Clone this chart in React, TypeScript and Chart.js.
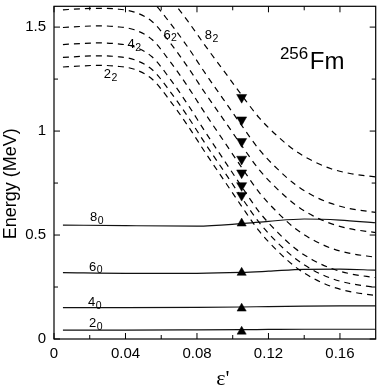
import React, { useEffect, useRef } from 'react';
import { Chart, registerables } from 'chart.js';

Chart.register(...registerables);

// ---------- data ----------
const X_DASHED = [0.005, 0.015, 0.025, 0.035, 0.045, 0.055, 0.065, 0.075, 0.085, 0.095, 0.105, 0.115, 0.125, 0.135, 0.145, 0.155, 0.165, 0.18];
const E_2_2 = [1.308, 1.313, 1.316, 1.312, 1.297, 1.249, 1.145, 1.024, 0.892, 0.765, 0.638, 0.517, 0.424, 0.347, 0.292, 0.253, 0.229, 0.209];
const E_3_2 = [1.354, 1.359, 1.362, 1.358, 1.343, 1.295, 1.190, 1.068, 0.935, 0.808, 0.680, 0.558, 0.464, 0.387, 0.331, 0.292, 0.268, 0.248];
const E_4_2 = [1.416, 1.421, 1.424, 1.420, 1.405, 1.356, 1.250, 1.126, 0.991, 0.862, 0.733, 0.609, 0.514, 0.435, 0.379, 0.340, 0.315, 0.295];
const E_5_2 = [1.498, 1.503, 1.506, 1.502, 1.487, 1.439, 1.334, 1.212, 1.079, 0.952, 0.825, 0.703, 0.609, 0.531, 0.476, 0.437, 0.413, 0.393];
const E_6_2 = [1.583, 1.588, 1.590, 1.587, 1.572, 1.526, 1.424, 1.306, 1.177, 1.054, 0.930, 0.812, 0.721, 0.646, 0.592, 0.555, 0.531, 0.512];
const E_7_2 = [1.678, 1.683, 1.685, 1.682, 1.667, 1.621, 1.519, 1.402, 1.273, 1.150, 1.027, 0.909, 0.818, 0.743, 0.689, 0.652, 0.628, 0.609];
const E_8_2 = [1.788, 1.793, 1.795, 1.792, 1.778, 1.734, 1.638, 1.527, 1.406, 1.290, 1.173, 1.062, 0.976, 0.905, 0.855, 0.819, 0.797, 0.779];

const X_SOLID = [0.005, 0.04, 0.08, 0.105, 0.12, 0.14, 0.16, 0.18];
const E_2_0 = [0.043, 0.043, 0.044, 0.045, 0.046, 0.047, 0.047, 0.047];
const E_4_0 = [0.151, 0.151, 0.152, 0.154, 0.156, 0.158, 0.159, 0.159];
const E_6_0 = [0.319, 0.316, 0.316, 0.320, 0.326, 0.335, 0.336, 0.331];
const E_8_0 = [0.548, 0.545, 0.543, 0.555, 0.566, 0.577, 0.572, 0.559];

const X_EXP = 0.105;
const EXP_GROUND = [0.036, 0.147, 0.319, 0.556];
const EXP_GAMMA = [0.691, 0.738, 0.799, 0.865, 0.950, 1.054, 1.162];

const X_MAJOR = [0, 0.04, 0.08, 0.12, 0.16];
const X_TICK_LABELS = ['0', '0.04', '0.08', '0.12', '0.16'];
const X_MINOR = [0.02, 0.06, 0.1, 0.14];
const Y_MAJOR = [0, 0.5, 1, 1.5];
const Y_TICK_LABELS = ['0', '0.5', '1', '1.5'];
const Y_MINOR = [0.25, 0.75, 1.25];

const LABEL_MAIN = ['2', '4', '6', '8', '8', '6', '4', '2'];
const LABEL_SUB = ['2', '2', '2', '2', '0', '0', '0', '0'];
const LABEL_X = [0.0278, 0.0411, 0.0612, 0.0844, 0.0201, 0.0196, 0.019, 0.0196];
const LABEL_E = [1.2535, 1.398, 1.445, 1.442, 0.5655, 0.327, 0.158, 0.0566];

const NUCLEUS_MASS = '256';
const NUCLEUS_SYMBOL = 'Fm';
const NUCLEUS_X = 0.1264;
const NUCLEUS_E = 1.3007;

const Y_TITLE = 'Energy (MeV)';
const X_TITLE = "\u03b5'";

// ---------- style ----------
const SANS = '"Liberation Sans", Arial, Helvetica, sans-serif';
const SERIF = '"Liberation Serif", "Times New Roman", serif';

const pts = (xs: number[], ys: number[]) => xs.map((x, i) => ({ x, y: ys[i] }));

const dashed = (ys: number[]) => ({
  data: pts(X_DASHED, ys),
  borderColor: '#000',
  borderWidth: 1.2,
  borderDash: [6, 5],
  pointRadius: 0,
  cubicInterpolationMode: 'monotone' as const,
  fill: false,
  order: 2,
});

const solid = (ys: number[]) => ({
  data: pts(X_SOLID, ys),
  borderColor: '#111',
  borderWidth: 1.2,
  pointRadius: 0,
  cubicInterpolationMode: 'monotone' as const,
  fill: false,
  order: 2,
});

const noPad = (s: any) => {
  s.paddingTop = 0;
  s.paddingBottom = 0;
  s.paddingLeft = 0;
  s.paddingRight = 0;
};

const decor = {
  id: 'decor',
  afterDraw(chart: any) {
    const { ctx, chartArea: a } = chart;
    const xs = chart.scales.x;
    const ys = chart.scales.y;
    ctx.save();
    ctx.strokeStyle = '#000';
    ctx.lineWidth = 1.2;
    ctx.strokeRect(a.left, a.top, a.right - a.left, a.bottom - a.top);

    ctx.lineWidth = 1;
    const tick = (x1: number, y1: number, x2: number, y2: number) => {
      ctx.beginPath();
      ctx.moveTo(x1, y1);
      ctx.lineTo(x2, y2);
      ctx.stroke();
    };
    X_MAJOR.forEach((v) => {
      const p = xs.getPixelForValue(v);
      tick(p, a.bottom, p, a.bottom - 6);
      tick(p, a.top, p, a.top + 6);
    });
    X_MINOR.forEach((v) => {
      const p = xs.getPixelForValue(v);
      tick(p, a.bottom, p, a.bottom - 4);
      tick(p, a.top, p, a.top + 4);
    });
    Y_MAJOR.forEach((v) => {
      const p = ys.getPixelForValue(v);
      tick(a.left, p, a.left + 6, p);
      tick(a.right, p, a.right - 6, p);
    });
    Y_MINOR.forEach((v) => {
      const p = ys.getPixelForValue(v);
      tick(a.left, p, a.left + 4, p);
      tick(a.right, p, a.right - 4, p);
    });

    ctx.fillStyle = '#000';
    ctx.textAlign = 'left';
    ctx.textBaseline = 'alphabetic';
    LABEL_MAIN.forEach((m, i) => {
      const px = xs.getPixelForValue(LABEL_X[i]);
      const py = ys.getPixelForValue(LABEL_E[i]);
      ctx.font = `13px ${SANS}`;
      ctx.fillText(m, px, py);
      const w = ctx.measureText(m).width;
      ctx.font = `10.5px ${SANS}`;
      ctx.fillText(LABEL_SUB[i], px + w + 0.5, py + 2.4);
    });

    const nx = xs.getPixelForValue(NUCLEUS_X);
    const ny = ys.getPixelForValue(NUCLEUS_E);
    ctx.font = `17px ${SANS}`;
    ctx.fillText(NUCLEUS_MASS, nx, ny - 10);
    const mw = ctx.measureText(NUCLEUS_MASS).width;
    ctx.font = `24px ${SANS}`;
    ctx.fillText(NUCLEUS_SYMBOL, nx + mw + 1.5, ny);

    // axis titles
    ctx.save();
    ctx.translate(16, (a.top + a.bottom) / 2 + 11);
    ctx.rotate(-Math.PI / 2);
    ctx.textAlign = 'center';
    ctx.font = `18px ${SANS}`;
    ctx.fillText(Y_TITLE, 0, 0);
    ctx.restore();

    ctx.textAlign = 'center';
    ctx.font = `22px ${SERIF}`;
    ctx.fillText(X_TITLE, (a.left + a.right) / 2 + 8, 385);
    ctx.restore();
  },
};

export default function App() {
  const ref = useRef<HTMLCanvasElement>(null);
  useEffect(() => {
    const canvas = ref.current;
    if (!canvas) return;
    const chart = new Chart(canvas, {
      type: 'line',
      data: {
        datasets: [
          {
            data: EXP_GROUND.map((y) => ({ x: X_EXP, y })),
            showLine: false,
            pointStyle: 'triangle',
            pointRadius: 5.3,
            pointBorderWidth: 0.5,
            pointBackgroundColor: '#000',
            pointBorderColor: '#000',
            order: 0,
          },
          {
            data: EXP_GAMMA.map((y) => ({ x: X_EXP, y })),
            showLine: false,
            pointStyle: 'triangle',
            pointRotation: 180,
            pointRadius: 5.8,
            pointBorderWidth: 0.5,
            pointBackgroundColor: '#000',
            pointBorderColor: '#000',
            order: 0,
          },
          dashed(E_2_2),
          dashed(E_3_2),
          dashed(E_4_2),
          dashed(E_5_2),
          dashed(E_6_2),
          dashed(E_7_2),
          dashed(E_8_2),
          solid(E_2_0),
          solid(E_4_0),
          solid(E_6_0),
          solid(E_8_0),
        ] as any,
      },
      options: {
        animation: false,
        responsive: false,
        devicePixelRatio: 1,
        layout: { padding: { left: 0, right: 1, top: 1, bottom: 0 } },
        plugins: { legend: { display: false }, tooltip: { enabled: false } },
        elements: { line: { borderCapStyle: 'butt' } },
        scales: {
          x: {
            type: 'linear',
            min: 0,
            max: 0.18,
            grid: { display: false, drawTicks: false },
            border: { display: false },
            afterBuildTicks: (s: any) => {
              s.ticks = X_MAJOR.map((value) => ({ value }));
            },
            afterFit: (s: any) => {
              s.height = 53;
              noPad(s);
            },
            ticks: {
              autoSkip: false,
              maxRotation: 0,
              padding: 6,
              color: '#000',
              font: { family: SANS, size: 15 },
              callback: (_v: any, i: number) => X_TICK_LABELS[i],
            },
          },
          y: {
            type: 'linear',
            min: 0,
            max: 1.6,
            grid: { display: false, drawTicks: false },
            border: { display: false },
            afterBuildTicks: (s: any) => {
              s.ticks = Y_MAJOR.map((value) => ({ value }));
            },
            afterFit: (s: any) => {
              s.width = 54;
              noPad(s);
            },
            ticks: {
              autoSkip: false,
              padding: 8,
              color: '#000',
              font: { family: SANS, size: 15 },
              callback: (_v: any, i: number) => Y_TICK_LABELS[i],
            },
          },
        },
      } as any,
      plugins: [decor],
    });
    return () => chart.destroy();
  }, []);
  return (
    <div style={{ position: 'absolute', left: 0, top: 0, width: 382, height: 392, background: '#fff' }}>
      <canvas ref={ref} width={382} height={392} style={{ display: 'block' }} />
    </div>
  );
}
